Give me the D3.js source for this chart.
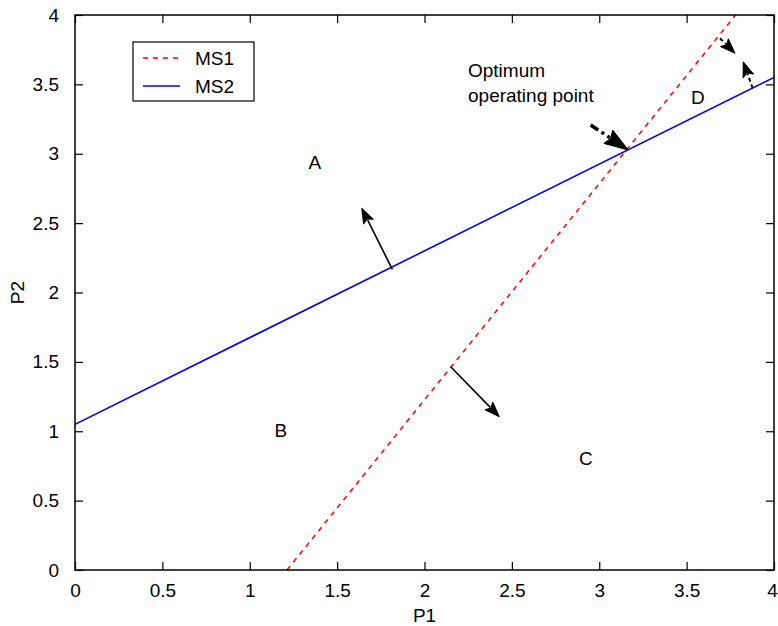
<!DOCTYPE html>
<html>
<head>
<meta charset="utf-8">
<script src="https://cdn.jsdelivr.net/npm/d3@7"></script>
<style>
  html, body { margin: 0; padding: 0; background: #fff; }
  svg { display: block; }
  text { font-family: "Liberation Sans", Arial, sans-serif; fill: #000; }
</style>
</head>
<body>
<svg id="chart" width="778" height="626"></svg>
<script>
// Operating lines of the two machines in the P1–P2 plane
const ms1X = [1.213, 3.78];
const ms1Y = [0, 4];
const ms2X = [0, 4];
const ms2Y = [1.05, 3.55];

// Axis ticks
const xTicks = [0, 0.5, 1, 1.5, 2, 2.5, 3, 3.5, 4];
const yTicks = [0, 0.5, 1, 1.5, 2, 2.5, 3, 3.5, 4];

// Region labels
const regionNames = ["A", "B", "C", "D"];
const regionX = [1.373, 1.178, 2.924, 3.565];
const regionY = [2.94, 1.009, 0.807, 3.41];

// Direction arrows: [x0, y0] -> [x1, y1] in data units
const arrowNames = ["upA", "downC", "optimum", "d1", "d2"];
const arrowFrom = [[1.816, 2.167], [2.150, 1.465], [2.951, 3.207], [3.691, 3.832], [3.878, 3.472]];
const arrowTo = [[1.641, 2.607], [2.428, 1.105], [3.166, 3.027], [3.777, 3.724], [3.824, 3.663]];
const arrowKind = ["solid", "solid", "dashdot", "dashed", "dashed"];

const svg = d3.select("#chart");
const margin = { left: 75, right: 4, top: 15, bottom: 56 };
const W = 778, H = 626;
const x = d3.scaleLinear().domain([0, 4]).range([margin.left, W - margin.right]);
const y = d3.scaleLinear().domain([0, 4]).range([H - margin.bottom, margin.top]);

const defs = svg.append("defs");
defs.append("clipPath").attr("id", "plotClip")
  .append("rect")
  .attr("x", x(0)).attr("y", y(4))
  .attr("width", x(4) - x(0)).attr("height", y(0) - y(4));

// Axes with inward ticks on all four sides
const tickLen = 8;
const fontSize = 19;
const gx = svg.append("g").attr("transform", `translate(0,${y(0)})`)
  .call(d3.axisBottom(x).tickValues(xTicks).tickFormat(d3.format("")).tickSizeInner(-tickLen).tickSizeOuter(0).tickPadding(14));
const gxTop = svg.append("g").attr("transform", `translate(0,${y(4)})`)
  .call(d3.axisTop(x).tickValues(xTicks).tickFormat("").tickSizeInner(-tickLen).tickSizeOuter(0));
const gy = svg.append("g").attr("transform", `translate(${x(0)},0)`)
  .call(d3.axisLeft(y).tickValues(yTicks).tickFormat(d3.format("")).tickSizeInner(-tickLen).tickSizeOuter(0).tickPadding(16));
const gyRight = svg.append("g").attr("transform", `translate(${x(4)},0)`)
  .call(d3.axisRight(y).tickValues(yTicks).tickFormat("").tickSizeInner(-tickLen).tickSizeOuter(0));

[gx, gxTop, gy, gyRight].forEach(g => {
  g.select(".domain").remove();
  g.selectAll(".tick line").attr("stroke", "#000").attr("stroke-width", 1.2);
  g.selectAll(".tick text").attr("font-size", fontSize)
    .attr("font-family", "'Liberation Sans', Arial, sans-serif").attr("fill", "#000");
});
gx.selectAll(".tick text").attr("dy", "0.71em");
// keep the last x label inside the page edge
gx.selectAll(".tick text").filter(d => d === 4).attr("dx", -2);

// Data lines
const line = d3.line().x(d => x(d[0])).y(d => y(d[1]));
const plot = svg.append("g").attr("clip-path", "url(#plotClip)");
plot.append("path")
  .datum(ms1X.map((v, i) => [v, ms1Y[i]]))
  .attr("d", line).attr("fill", "none")
  .attr("stroke", "#ff0000").attr("stroke-width", 1.5).attr("stroke-dasharray", "5,5");
plot.append("path")
  .datum(ms2X.map((v, i) => [v, ms2Y[i]]))
  .attr("d", line).attr("fill", "none")
  .attr("stroke", "#0000ff").attr("stroke-width", 1.6);

// Arrows
function drawArrow(g, from, to, kind) {
  const x0 = x(from[0]), y0 = y(from[1]), x1 = x(to[0]), y1 = y(to[1]);
  const dx = x1 - x0, dy = y1 - y0, len = Math.hypot(dx, dy);
  const ux = dx / len, uy = dy / len;
  const big = kind === "dashdot";
  const hl = big ? 24 : 15, hw = big ? 8 : 5.5;
  const bx = x1 - ux * hl, by = y1 - uy * hl;
  const shaft = g.append("line")
    .attr("x1", x0).attr("y1", y0)
    .attr("x2", bx + ux * 2).attr("y2", by + uy * 2)
    .attr("stroke", "#000")
    .attr("stroke-width", big ? 3.5 : (kind === "dashed" ? 2 : 1.6));
  if (kind === "dashdot") shaft.attr("stroke-dasharray", "9,4,3,4");
  if (kind === "dashed") shaft.attr("stroke-dasharray", "4,3");
  g.append("path")
    .attr("d", `M${x1},${y1}L${bx - uy * hw},${by + ux * hw}L${bx + ux * 3},${by + uy * 3}L${bx + uy * hw},${by - ux * hw}Z`)
    .attr("fill", "#000").attr("stroke", "#000").attr("stroke-width", 1);
}
const arrows = svg.append("g");
arrowNames.forEach((n, i) => drawArrow(arrows, arrowFrom[i], arrowTo[i], arrowKind[i]));

// Box around the plot
svg.append("rect")
  .attr("x", x(0)).attr("y", y(4))
  .attr("width", x(4) - x(0)).attr("height", y(0) - y(4))
  .attr("fill", "none").attr("stroke", "#000").attr("stroke-width", 1.5);

// Region labels
svg.append("g").selectAll("text").data(regionNames).join("text")
  .attr("x", (d, i) => x(regionX[i]))
  .attr("y", (d, i) => y(regionY[i]))
  .attr("dy", "0.36em")
  .attr("text-anchor", "middle")
  .attr("font-size", fontSize)
  .text(d => d);

// Optimum point annotation
const note = svg.append("text")
  .attr("x", x(2.249)).attr("y", y(3.555))
  .attr("font-size", fontSize);
note.append("tspan").attr("x", x(2.249)).text("Optimum");
note.append("tspan").attr("x", x(2.249)).attr("dy", 25).text("operating point");

// Axis titles
svg.append("text")
  .attr("x", (x(0) + x(4)) / 2).attr("y", H - 4)
  .attr("text-anchor", "middle").attr("font-size", fontSize).text("P1");
svg.append("text")
  .attr("transform", `translate(24,${(y(0) + y(4)) / 2}) rotate(-90)`)
  .attr("text-anchor", "middle").attr("font-size", fontSize).text("P2");

// Legend
const legendNames = ["MS1", "MS2"];
const legendColors = ["#ff0000", "#0000ff"];
const legendDash = ["5,5", null];
const lg = svg.append("g").attr("transform", "translate(133,42)");
lg.append("rect").attr("width", 121).attr("height", 59)
  .attr("fill", "#fff").attr("stroke", "#000").attr("stroke-width", 1.2);
legendNames.forEach((n, i) => {
  const ly = 16 + i * 28;
  lg.append("line").attr("x1", 10).attr("x2", 47).attr("y1", ly).attr("y2", ly)
    .attr("stroke", legendColors[i]).attr("stroke-width", 1.6)
    .attr("stroke-dasharray", legendDash[i]);
  lg.append("text").attr("x", 62).attr("y", ly).attr("dy", "0.36em")
    .attr("font-size", fontSize).text(n);
});
</script>
</body>
</html>
